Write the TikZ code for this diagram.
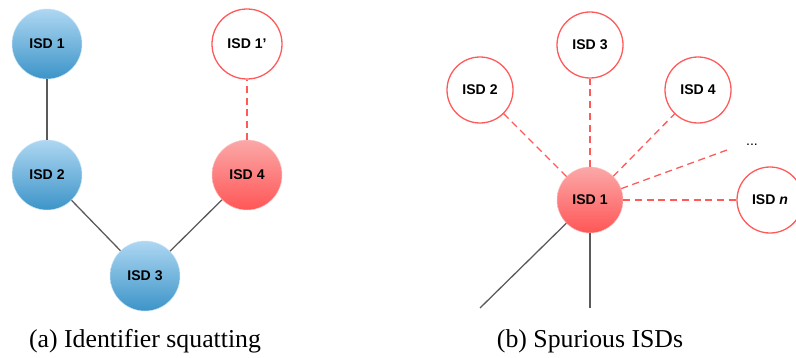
\documentclass[tikz,border=0pt]{standalone}
\usepackage{fontspec}
\setmainfont{Liberation Serif}
\setsansfont{Liberation Sans}
\definecolor{isdblueT}{HTML}{AED7F2}
\definecolor{isdblueB}{HTML}{3C94C8}
\definecolor{isdredT}{HTML}{FBA8A8}
\definecolor{isdredB}{HTML}{FF5656}
\definecolor{isdline}{HTML}{FF5A5A}
\definecolor{linkgray}{HTML}{5A5A5A}
\begin{document}
\begin{tikzpicture}[x=0.03cm, y=-0.03cm,
		isdblue/.style={circle, minimum size=2.1cm, inner sep=0pt, top color=isdblueT, bottom color=isdblueB, draw=isdblueT!70!white, line width=0.4pt, font=\sffamily\bfseries\fontsize{12}{14}\selectfont},
		isdred/.style={isdblue, top color=isdredT, bottom color=isdredB, draw=isdredT!70!white},
		isdfake/.style={circle, minimum size=2.1cm, inner sep=0pt, draw=isdline, fill=white, line width=1.1pt, font=\sffamily\bfseries\fontsize{12}{14}\selectfont},
		link/.style={draw=linkgray, line width=1.1pt},
		fakelink/.style={draw=isdline, line width=1.1pt, dash pattern=on 6pt off 4pt}]
		
		\useasboundingbox (0,0) rectangle (796,357);
		
		%(a) Identifier squatting
		\node (a1) at (47,44) [isdblue]{ISD 1};
		\node (a2) at (47,175) [isdblue]{ISD 2};
		\node (a3) at (145,276) [isdblue]{ISD 3};
		\node (a4) at (247,175) [isdred]{ISD 4};
		\node (a1p) at (247,44) [isdfake]{ISD 1’};
		
		\draw[link] (a1) -- (a2);
		\draw[link] (a2) -- (a3);
		\draw[link] (a3) -- (a4);
		\draw[fakelink] (a4) -- (a1p);
		
		%(b) Spurious ISDs
		\node (b1) at (590,200) [isdred, minimum size=1.98cm]{ISD 1};
		\node (b2) at (480,90) [isdfake, minimum size=1.98cm]{ISD 2};
		\node (b3) at (590,45) [isdfake, minimum size=1.98cm]{ISD 3};
		\node (b4) at (698,90) [isdfake, minimum size=1.98cm]{ISD 4};
		\node (bn) at (770,200) [isdfake, minimum size=1.98cm]{ISD \textit{n}};
		\node (bdots) at (752,145) [font=\sffamily\fontsize{12}{14}\selectfont]{...};
		\coordinate (bdotsend) at (727,150);
		\coordinate (bleft) at (480,308);
		\coordinate (bdown) at (590,308);
		
		\draw[fakelink] (b1) -- (b2);
		\draw[fakelink] (b1) -- (b3);
		\draw[fakelink] (b1) -- (b4);
		\draw[fakelink] (b1) -- (bdotsend);
		\draw[fakelink] (b1) -- (bn);
		\draw[link] (b1) -- (bleft);
		\draw[link] (b1) -- (bdown);
		
		%Captions
		\node (capa) at (145,341) [font=\fontsize{22}{26}\selectfont]{(a) Identifier squatting};
		\node (capb) at (590,341) [font=\fontsize{22}{26}\selectfont]{(b) Spurious ISDs};
		
\end{tikzpicture}
\end{document}
